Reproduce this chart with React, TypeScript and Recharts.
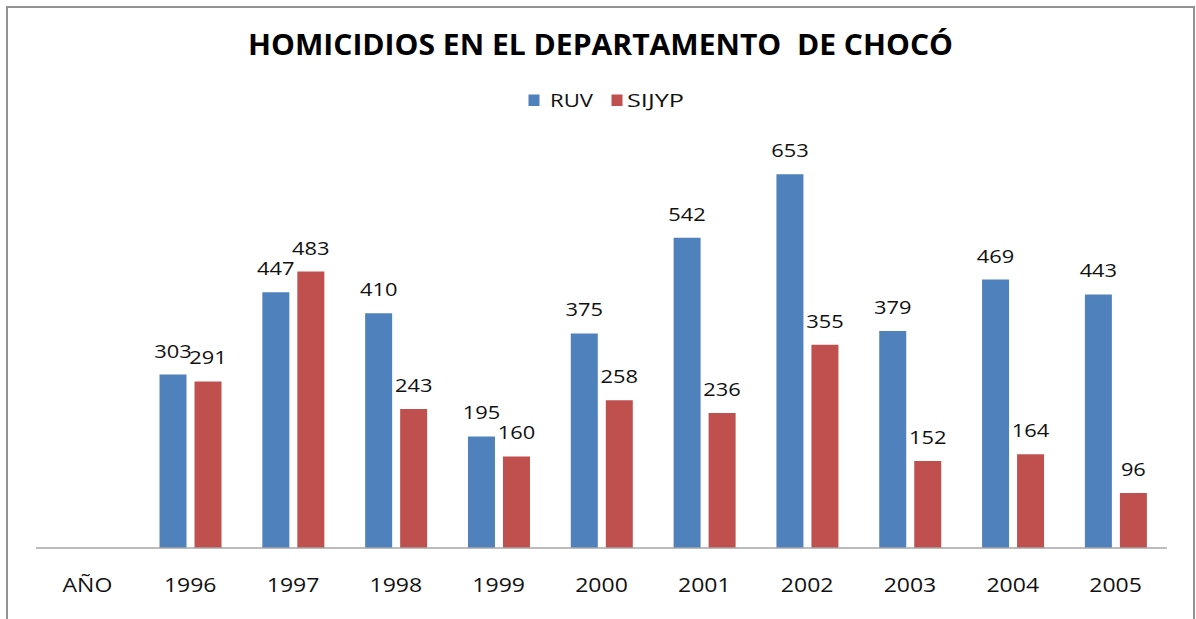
import React from 'react';
import { BarChart, Bar, XAxis, YAxis, LabelList } from 'recharts';

const categories = ['AÑO', '1996', '1997', '1998', '1999', '2000', '2001', '2002', '2003', '2004', '2005'];
const ruvValues = [null, 303, 447, 410, 195, 375, 542, 653, 379, 469, 443];
const sijypValues = [null, 291, 483, 243, 160, 258, 236, 355, 152, 164, 96];
const seriesNames = ['RUV', 'SIJYP'];
const titleText = 'HOMICIDIOS EN EL DEPARTAMENTO  DE CHOCÓ';

const data = categories.map((c, i) => ({ year: c, RUV: ruvValues[i], SIJYP: sijypValues[i] }));

const S = 1.15; // horizontal stretch of the original picture
const PAGE_W = 1196;
const PAGE_H = 619;
const W = PAGE_W / S;
const FONT = '"Open Sans", "Noto Sans", sans-serif';
const BLUE = '#4F81BD';
const RED = '#C0504D';

export default function App() {
  return (
    <div style={{ position: 'absolute', left: 0, top: 0, width: PAGE_W, height: PAGE_H, overflow: 'hidden', background: '#fff' }}>
      <div
        style={{
          position: 'absolute', left: 6, top: 6, width: 1185, height: 620,
          borderLeft: '2px solid #929292', borderTop: '2px solid #929292', borderRight: '2px solid #929292',
        }}
      />
      <div style={{ position: 'absolute', left: 0, top: 0, width: W, height: PAGE_H, transform: `scaleX(${S})`, transformOrigin: '0 0' }}>
        <BarChart
          width={W}
          height={PAGE_H}
          data={data}
          margin={{ top: 147.4, right: PAGE_W / S - 1167 / S, bottom: 41, left: 36 / S }}
          barSize={27 / S}
          barGap={8 / S}
        >
          <XAxis
            dataKey="year"
            height={30}
            tickLine={false}
            axisLine={{ stroke: '#a6a6a6', strokeWidth: 1.5 }}
            tick={{ fill: '#111', fontSize: 20, fontFamily: FONT }}
            tickMargin={24}
            interval={0}
          />
          <YAxis hide domain={[0, 700]} />
          <Bar dataKey="RUV" fill={BLUE} isAnimationActive={false}>
            <LabelList dataKey="RUV" position="top" offset={17} style={{ fill: '#111', fontSize: 19, fontFamily: FONT }} />
          </Bar>
          <Bar dataKey="SIJYP" fill={RED} isAnimationActive={false}>
            <LabelList dataKey="SIJYP" position="top" offset={17} style={{ fill: '#111', fontSize: 19, fontFamily: FONT }} />
          </Bar>
        </BarChart>
        <svg width={W} height={130} style={{ position: 'absolute', left: 0, top: 0, pointerEvents: 'none' }}>
          <text
            x={600.5 / S}
            y={55}
            textAnchor="middle"
            textLength={705 / S}
            lengthAdjust="spacingAndGlyphs"
            style={{ fontFamily: FONT, fontWeight: 700, fontSize: 28, fill: '#000', whiteSpace: 'pre' }}
          >
            {titleText}
          </text>
          <rect x={528.5 / S} y={94.5} width={11 / S} height={11.5} fill={BLUE} />
          <text x={550 / S} y={107} textLength={43 / S} lengthAdjust="spacingAndGlyphs" style={{ fontFamily: FONT, fontSize: 18.5, fill: '#111' }}>{seriesNames[0]}</text>
          <rect x={611.5 / S} y={94.5} width={11 / S} height={11.5} fill={RED} />
          <text x={627 / S} y={107} textLength={57 / S} lengthAdjust="spacingAndGlyphs" style={{ fontFamily: FONT, fontSize: 18.5, fill: '#111' }}>{seriesNames[1]}</text>
        </svg>
      </div>
    </div>
  );
}
